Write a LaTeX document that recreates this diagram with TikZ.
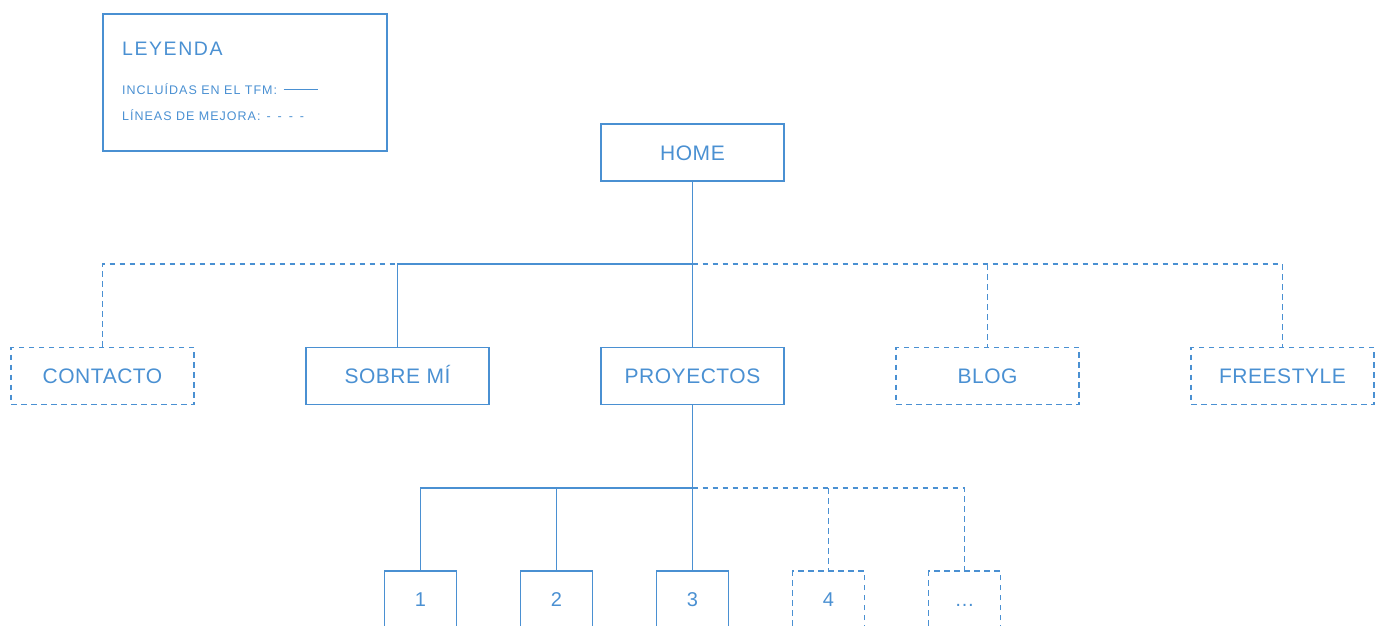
\documentclass[tikz,border=0pt]{standalone}
\usepackage{fontspec}
\setmainfont{Liberation Sans}
\newfontfamily\cajafont{Liberation Sans}[LetterSpace=2.5]
\newfontfamily\leyfont{Liberation Sans}[LetterSpace=8]
\definecolor{azul}{RGB}{74,144,210}

\tikzset{
  caja/.style={draw=azul, line width=1.2pt, text=azul, inner sep=0pt,
    minimum width=183pt, minimum height=57pt, text height=15pt, text depth=0pt,
    font=\cajafont\fontsize{21}{25}\selectfont},
  cajita/.style={caja, minimum width=72pt, text height=14pt,
    font=\cajafont\fontsize{20}{24}\selectfont},
  mejora/.style={dash pattern=on 5.5pt off 4.5pt},
  enlace/.style={draw=azul, line width=1.2pt},
  leytexto/.style={text=azul, inner sep=0pt, anchor=base west,
    font=\leyfont\fontsize{12.5}{15}\selectfont},
}

\begin{document}
\begin{tikzpicture}[x=1pt, y=-1pt]
  \useasboundingbox (0,0) rectangle (1381,625);
  \clip (0,0) rectangle (1381,625);

  % leyenda
  \node[draw=azul, line width=1.2pt, minimum width=284pt, minimum height=137pt, inner sep=0pt] (leyenda) at (245,82.5) {};
  \node[leytexto, font=\leyfont\fontsize{19.5}{23}\selectfont] (titulo) at (122,55.7) {LEYENDA};
  \node[leytexto] (incluidas) at (122,94) {INCLUÍDAS EN EL TFM: \kern2pt\rule[4pt]{34pt}{1.2pt}};
  \node[leytexto] (lineas) at (122,120) {LÍNEAS DE MEJORA: \kern1.5pt-\kern2.5pt{} -\kern2.5pt{} -\kern2.5pt{} -};

  % primer nivel
  \node[caja] (home) at (692.5,152.5) {HOME};
  \node[caja, mejora] (contacto) at (102.5,376) {CONTACTO};
  \node[caja] (sobremi) at (397.5,376) {SOBRE MÍ};
  \node[caja] (proyectos) at (692.5,376) {PROYECTOS};
  \node[caja, mejora] (blog) at (987.5,376) {BLOG};
  \node[caja, mejora] (freestyle) at (1282.5,376) {FREESTYLE};
  \coordinate (bus1) at (692.5,264);

  \draw[enlace] (home.south) -- (proyectos.north);
  \draw[enlace] (sobremi.north) -- (sobremi.north |- bus1) -- (bus1);
  \draw[enlace, mejora] (contacto.north) -- (contacto.north |- bus1) -- (sobremi.north |- bus1);
  \draw[enlace, mejora] (bus1) -- (freestyle.north |- bus1) -- (freestyle.north);
  \draw[enlace, mejora] (blog.north |- bus1) -- (blog.north);

  % proyectos
  \node[cajita] (p1) at (420.5,599.5) {1};
  \node[cajita] (p2) at (556.5,599.5) {2};
  \node[cajita] (p3) at (692.5,599.5) {3};
  \node[cajita, mejora] (p4) at (828.5,599.5) {4};
  \node[cajita, mejora] (pmas) at (964.5,599.5) {…};
  \coordinate (bus2) at (692.5,488);

  \draw[enlace] (proyectos.south) -- (p3.north);
  \draw[enlace] (p1.north) -- (p1.north |- bus2) -- (bus2);
  \draw[enlace] (p2.north |- bus2) -- (p2.north);
  \draw[enlace, mejora] (bus2) -- (pmas.north |- bus2) -- (pmas.north);
  \draw[enlace, mejora] (p4.north |- bus2) -- (p4.north);
\end{tikzpicture}
\end{document}
